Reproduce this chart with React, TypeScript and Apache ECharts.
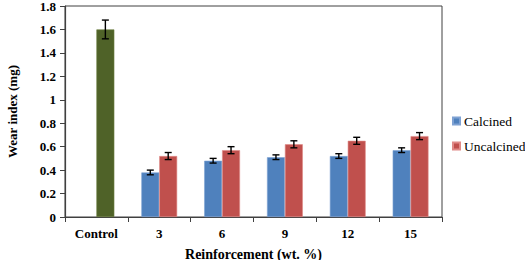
import React, { useEffect, useRef } from "react";
import * as echarts from "echarts";

const categories = ["Control", "3", "6", "9", "12", "15"];
const calcined: (number | null)[] = [null, 0.38, 0.48, 0.51, 0.52, 0.57];
const calcinedErr: (number | null)[] = [null, 0.02, 0.02, 0.02, 0.02, 0.02];
const uncalcined = [1.6, 0.52, 0.57, 0.62, 0.65, 0.69];
const uncalcinedErr = [0.08, 0.03, 0.03, 0.03, 0.03, 0.03];

const FONT = "Liberation Serif";
const BLUE = "#4F81BD";
const RED = "#C0504D";
const GREEN = "#4F6228";
const AXIS = "#404040";
const GAP = 0.43;

function errorSeries(values: (number | null)[], errs: (number | null)[], side: number) {
  const data = values.map((v, i) =>
    v == null || errs[i] == null ? [i, null, null] : [i, v - (errs[i] as number), v + (errs[i] as number)]
  );
  return {
    type: "custom",
    silent: true,
    z: 10,
    renderItem: (params: any, api: any) => {
      const lo = api.value(1);
      const hi = api.value(2);
      if (lo == null || isNaN(lo)) return null;
      const idx = api.value(0);
      const catW = api.size([1, 0])[0];
      const bw = (catW * (1 - GAP)) / 2;
      const pLo = api.coord([idx, lo]);
      const pHi = api.coord([idx, hi]);
      const x = pLo[0] + side * bw / 2;
      const cap = 3.5;
      const style = { stroke: "#000", lineWidth: 1.4 };
      return {
        type: "group",
        children: [
          { type: "line", shape: { x1: x, y1: pLo[1], x2: x, y2: pHi[1] }, style },
          { type: "line", shape: { x1: x - cap, y1: pLo[1], x2: x + cap, y2: pLo[1] }, style },
          { type: "line", shape: { x1: x - cap, y1: pHi[1], x2: x + cap, y2: pHi[1] }, style },
        ],
      };
    },
    data,
    encode: { x: 0, y: [1, 2] },
  };
}

export default function App() {
  const ref = useRef<HTMLDivElement>(null);
  useEffect(() => {
    if (!ref.current) return;
    const chart = echarts.init(ref.current, null, { renderer: "svg" });
    chart.setOption({
      animation: false,
      textStyle: { fontFamily: FONT },
      grid: {
        left: 65,
        right: 83,
        top: 6,
        bottom: 43,
        show: true,
        borderColor: AXIS,
        borderWidth: 1,
        backgroundColor: "transparent",
        containLabel: false,
        outerBoundsMode: "none",
      },
      legend: {
        orient: "vertical",
        left: 452,
        top: 114,
        padding: 0,
        itemWidth: 7,
        itemHeight: 7,
        itemGap: 11,
        icon: "rect",
        formatter: "{a|{name}}",
        textStyle: {
          fontFamily: FONT,
          fontSize: 13.5,
          color: "#000",
          overflow: "none",
          rich: { a: { fontFamily: FONT, fontSize: 13.5, color: "#000", fontWeight: "normal", padding: [0, 0, 0, -1] } },
        },
        data: [
          { name: "Calcined", itemStyle: { color: BLUE } },
          { name: "Uncalcined", itemStyle: { color: RED } },
        ],
      },
      xAxis: {
        type: "category",
        data: categories,
        name: "Reinforcement (wt. %)",
        nameLocation: "middle",
        nameGap: 30,
        nameTextStyle: { fontFamily: FONT, fontSize: 14, fontWeight: "bold", color: "#000" },
        axisLine: { lineStyle: { color: AXIS, width: 1.2 } },
        axisTick: { show: true, length: 5, inside: false, lineStyle: { color: AXIS } },
        axisLabel: { fontFamily: FONT, fontSize: 13, fontWeight: "bold", color: "#000", margin: 10 },
      },
      yAxis: {
        type: "value",
        min: 0,
        max: 1.8,
        interval: 0.2,
        name: "Wear index (mg)",
        nameLocation: "middle",
        nameGap: 46,
        nameTextStyle: { fontFamily: FONT, fontSize: 13, fontWeight: "bold", color: "#000" },
        splitLine: { show: false },
        axisLine: { show: true, lineStyle: { color: AXIS, width: 1.2 } },
        axisTick: { show: true, length: 5, lineStyle: { color: AXIS } },
        axisLabel: {
          fontFamily: FONT,
          fontSize: 13,
          fontWeight: "bold",
          color: "#000",
          margin: 9,
          formatter: (v: number) => String(Math.round(v * 10) / 10),
        },
      },
      series: [
        {
          name: "Calcined",
          type: "bar",
          barGap: "0%",
          barCategoryGap: "43%",
          itemStyle: { color: BLUE, borderColor: "#7FA2D3", borderWidth: 0.6 },
          data: calcined.map((v) => (v == null ? "-" : v)),
        },
        {
          name: "Uncalcined",
          type: "bar",
          barGap: "0%",
          barCategoryGap: "43%",
          itemStyle: { color: RED, borderColor: "#E08A87", borderWidth: 0.6 },
          data: uncalcined.map((v, i) =>
            i === 0 ? { value: v, itemStyle: { color: GREEN, borderColor: "#6C8040" } } : v
          ),
        },
        errorSeries(calcined, calcinedErr, -1),
        errorSeries(uncalcined, uncalcinedErr, 1),
      ],
    });
    return () => chart.dispose();
  }, []);
  return (
    <div
      ref={ref}
      style={{ position: "absolute", left: 0, top: 0, width: 525, height: 260 }}
    />
  );
}
